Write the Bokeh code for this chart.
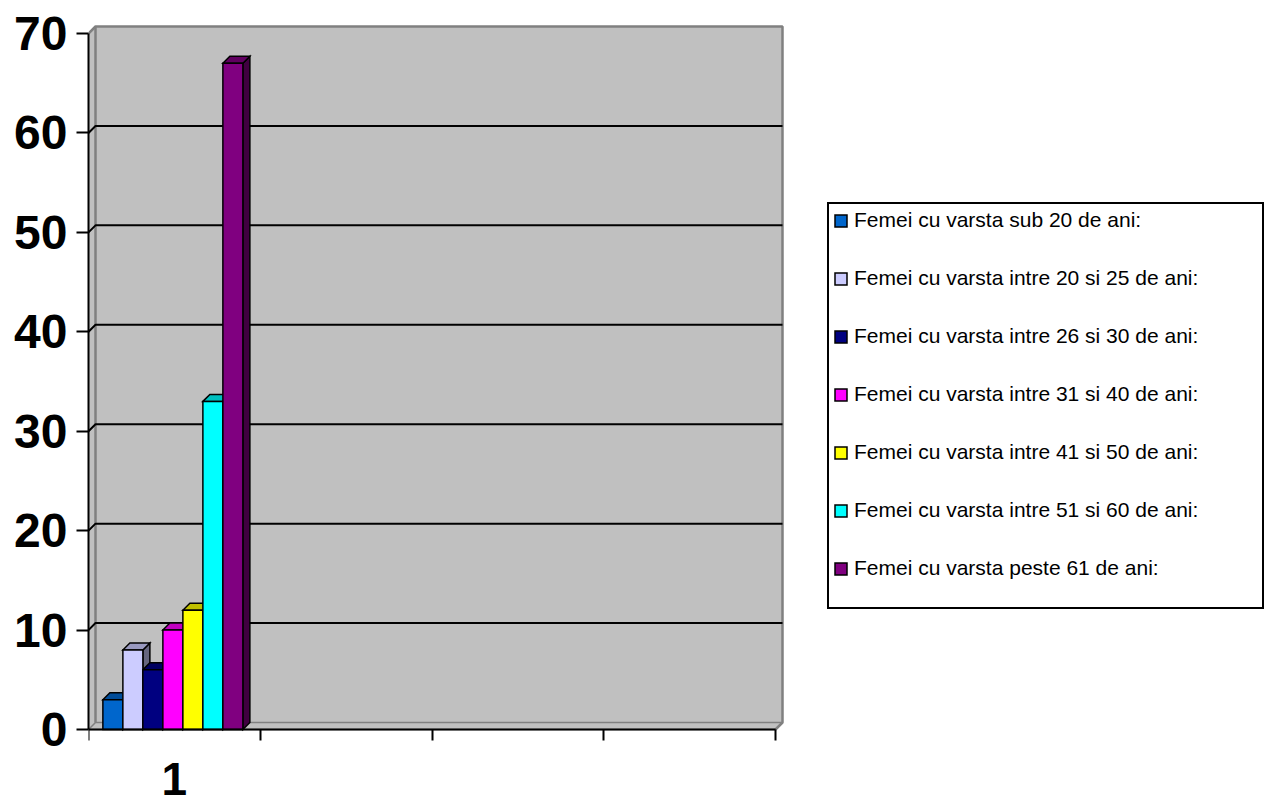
from bokeh.plotting import figure
from bokeh.models import (Range1d, FixedTicker, Legend, LegendItem, ColumnDataSource)
from bokeh.embed import file_html
from bokeh.resources import INLINE

# ---------------- data ----------------
categories = ["1", "", "", ""]
series_labels = [
    "Femei cu varsta sub 20 de ani:",
    "Femei cu varsta intre 20 si 25 de ani:",
    "Femei cu varsta intre 26 si 30 de ani:",
    "Femei cu varsta intre 31 si 40 de ani:",
    "Femei cu varsta intre 41 si 50 de ani:",
    "Femei cu varsta intre 51 si 60 de ani:",
    "Femei cu varsta peste 61 de ani:",
]
series_values = [3, 8, 6, 10, 12, 33, 67]
series_colors = ["#0066CC", "#CCCCFF", "#000080", "#FF00FF", "#FFFF00", "#00FFFF", "#800080"]
y_ticks = [0, 10, 20, 30, 40, 50, 60, 70]

# ---------------- layout constants (screen px) ----------------
W, H = 1266, 804
FRAME_LEFT = 88
FRAME_TOP = 20
FRAME_BOTTOM = H
FRAME_RIGHT = W
ZERO_Y = 729             # screen y of value 0
PX_X = 171.75            # px per category
PX_Y = 696.0 / 70.0      # px per value unit
DEPTH_PX = 7
DX = DEPTH_PX / PX_X
DY = DEPTH_PX / PX_Y
BAR_W = 20.0 / PX_X
NCAT = len(categories)
YMAX = 70

x_end = (FRAME_RIGHT - FRAME_LEFT) / PX_X
y_end = (ZERO_Y - FRAME_TOP) / PX_Y
y_start = -(FRAME_BOTTOM - ZERO_Y) / PX_Y


def shade(hex_color, f):
    h = hex_color.lstrip("#")
    r, g, b = (int(h[i:i + 2], 16) for i in (0, 2, 4))
    return "#%02x%02x%02x" % (int(r * f), int(g * f), int(b * f))


p = figure(width=W, height=H, x_range=Range1d(0, x_end), y_range=Range1d(y_start, y_end),
           output_backend="svg", toolbar_location=None,
           min_border_left=FRAME_LEFT, min_border_right=0,
           min_border_top=FRAME_TOP, min_border_bottom=0)
p.outline_line_color = None
p.background_fill_color = "white"
p.border_fill_color = "white"
p.xgrid.visible = False
p.ygrid.visible = False

WALL = "#C0C0C0"
EDGE = "#808080"

# back wall
p.quad(left=[DX], right=[NCAT + DX], bottom=[DY], top=[YMAX + DY],
       fill_color=WALL, line_color=None)
# side wall
p.patch(x=[0, DX, DX, 0], y=[0, DY, YMAX + DY, YMAX], fill_color=WALL, line_color=None)
# floor
p.patch(x=[0, NCAT, NCAT + DX, DX], y=[0, 0, DY, DY], fill_color=WALL,
        line_color=EDGE, line_width=1.5)
# wall edges
p.line(x=[0, DX, NCAT + DX, NCAT + DX, NCAT],
       y=[YMAX, YMAX + DY, YMAX + DY, DY, 0], line_color=EDGE, line_width=2.5)
p.line(x=[DX, DX], y=[DY, YMAX + DY], line_color=EDGE, line_width=2.5)

# gridlines (back + side)
gx, gy = [], []
for t in y_ticks[1:-1]:
    gx.append([0, DX, NCAT + DX])
    gy.append([t, t + DY, t + DY])
p.multi_line(xs=gx, ys=gy, line_color="black", line_width=2)

# 3D bars
n = len(series_values)
start = 0.5 - n * BAR_W / 2 - 1.5 / PX_X
lefts = [start + i * BAR_W for i in range(n)]
rights = [l + BAR_W for l in lefts]

side_xs, side_ys, top_xs, top_ys = [], [], [], []
for l, r, v in zip(lefts, rights, series_values):
    side_xs.append([r, r + DX, r + DX, r])
    side_ys.append([0, DY, v + DY, v])
    top_xs.append([l, l + DX, r + DX, r])
    top_ys.append([v, v + DY, v + DY, v])

p.patches(xs=side_xs, ys=side_ys, fill_color=[shade(c, 0.5) for c in series_colors],
          line_color="black", line_width=1.5, line_join="miter")
p.patches(xs=top_xs, ys=top_ys, fill_color=[shade(c, 0.75) for c in series_colors],
          line_color="black", line_width=1.5, line_join="miter")
src = ColumnDataSource(dict(left=lefts, right=rights, bottom=[0] * n, top=series_values,
                            color=series_colors))
front = p.quad(left="left", right="right", bottom="bottom", top="top", source=src,
               fill_color="color", line_color="black", line_width=1.5, line_join="miter")

# y axis
ya = p.yaxis[0]
ya.bounds = (0, YMAX)
ya.ticker = FixedTicker(ticks=y_ticks)
ya.axis_line_color = "black"
ya.axis_line_width = 2
ya.major_tick_out = 12
ya.major_tick_in = 0
ya.major_tick_line_width = 2
ya.minor_tick_out = 0
ya.minor_tick_in = 0
ya.major_label_standoff = 9
ya.major_label_text_font = "Liberation Sans"
ya.major_label_text_font_style = "bold"
ya.major_label_text_font_size = "48px"
ya.major_label_text_color = "black"

# x axis
xa = p.xaxis[0]
xa.fixed_location = 0
xa.bounds = (0, NCAT)
centers = [i + 0.5 for i in range(NCAT)]
xa.ticker = FixedTicker(ticks=centers, minor_ticks=list(range(NCAT + 1)))
xa.major_label_overrides = {c: lab for c, lab in zip(centers, categories)}
xa.axis_line_color = "black"
xa.axis_line_width = 2
xa.major_tick_out = 0
xa.major_tick_in = 0
xa.minor_tick_out = 11
xa.minor_tick_in = 0
xa.minor_tick_line_width = 2
xa.minor_tick_line_color = "black"
xa.major_label_standoff = 22
xa.major_label_text_font = "Liberation Sans"
xa.major_label_text_font_style = "bold"
xa.major_label_text_font_size = "46px"
xa.major_label_text_color = "black"

# legend
items = [LegendItem(label=lab, renderers=[front], index=i) for i, lab in enumerate(series_labels)]
legend = Legend(items=items, location=(827 - FRAME_LEFT, FRAME_BOTTOM - 609),
                border_line_color="black", border_line_width=2, border_line_alpha=1,
                background_fill_color="white", background_fill_alpha=1,
                padding=4, spacing=34, margin=0,
                glyph_width=15, glyph_height=15, label_standoff=6,
                label_height=24, label_width=404,
                label_text_font="Liberation Sans", label_text_font_size="21px",
                label_text_color="black")
try:
    legend.title = " "
    legend.title_location = "below"
    legend.title_text_font_size = "12px"
    legend.title_standoff = 9
except Exception:
    legend.title = None
    legend.padding = 10
p.add_layout(legend)

open("out.html", "w").write(file_html(p, INLINE))
